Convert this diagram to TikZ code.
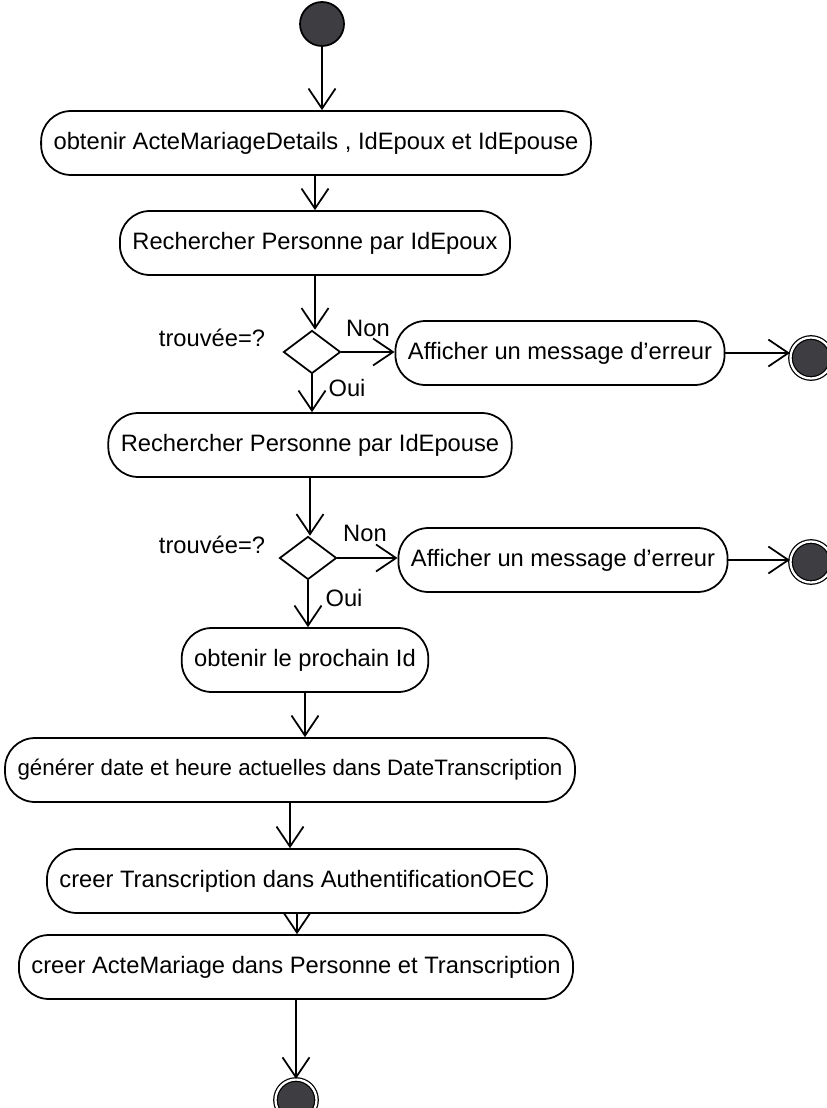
\documentclass[tikz,border=0pt]{standalone}
\usepackage{fontspec}
\setmainfont{Liberation Sans}
\usetikzlibrary{arrows.meta,shapes.geometric}
\definecolor{nodegray}{HTML}{3E3E42}

\begin{document}
\begin{tikzpicture}[x=0.02cm,y=-0.02cm,
  every node/.style={font=\fontsize{13.5}{16}\selectfont},
  action/.style={draw,line width=1pt,rounded corners=0.6cm,minimum height=1.28cm,inner xsep=0.25cm},
  choice/.style={draw,line width=1pt,diamond,minimum width=1.14cm,minimum height=0.86cm,inner sep=0},
  startnode/.style={circle,draw,line width=1pt,fill=nodegray,minimum size=0.88cm,inner sep=0},
  endnode/.style={circle,draw,line width=0.7pt,double,double distance=1.3pt,fill=nodegray,minimum size=0.82cm,inner sep=0},
  flow/.style={line width=1pt,-{Straight Barb[length=0.4cm,width=0.54cm,line width=1pt]}}]
  \path[use as bounding box] (0,0) rectangle (826,1108);

  \node[startnode] (start) at (322,24) {};
  \node[action] (details) at (316,143) {obtenir ActeMariageDetails , IdEpoux et IdEpouse};
  \node[action] (findepoux) at (315,243) {Rechercher Personne par IdEpoux};
  \node[choice] (test1) at (312,352) {};
  \node[action] (err1) at (560,353) {Afficher un message d'erreur};
  \node[endnode] (stop1) at (811,358) {};
  \node[action] (findepouse) at (310,445) {Rechercher Personne par IdEpouse};
  \node[choice] (test2) at (308,558) {};
  \node[action] (err2) at (563,560) {Afficher un message d'erreur};
  \node[endnode] (stop2) at (811,562) {};
  \node[action] (nextid) at (305,660) {obtenir le prochain Id};
  \node[action,font=\fontsize{12.7}{16}\selectfont] (datetime) at (290,770) {générer date et heure actuelles dans DateTranscription};
  \node[action] (transcr) at (297,881) {creer Transcription dans AuthentificationOEC};
  \node[action] (acte) at (296,967) {creer ActeMariage dans Personne et Transcription};
  \node[endnode] (stop3) at (296,1100) {};

  % labels of the two tests
  \node (ask1) at (212,338) {trouvée=?};
  \node (no1) at (368,328) {Non};
  \node (yes1) at (347,388) {Oui};
  \node (ask2) at (212,545) {trouvée=?};
  \node (no2) at (365,533) {Non};
  \node (yes2) at (344,598) {Oui};

  \draw[flow] (start.south) -- (start.south |- details.north);
  \draw[flow] (findepoux.north |- details.south) -- (findepoux.north);
  \draw[flow] (findepoux.south) -- (findepoux.south |- test1.north);
  \draw[flow] (test1.east) -- (test1.east -| err1.west);
  \draw[flow] (err1.east) -- (err1.east -| stop1.west);
  \draw[flow] (test1.south) -- (test1.south |- findepouse.north);
  \draw[flow] (findepouse.south) -- (findepouse.south |- test2.north);
  \draw[flow] (test2.east) -- (test2.east -| err2.west);
  \draw[flow] (err2.east) -- (err2.east -| stop2.west);
  \draw[flow] (test2.south) -- (test2.south |- nextid.north);
  \draw[flow] (nextid.south) -- (nextid.south |- datetime.north);
  \draw[flow] (datetime.south) -- (datetime.south |- transcr.north);
  \draw[flow] (transcr.south) -- (transcr.south |- acte.north);
  \draw[flow] (acte.south) -- (acte.south |- stop3.north);
\end{tikzpicture}
\end{document}
